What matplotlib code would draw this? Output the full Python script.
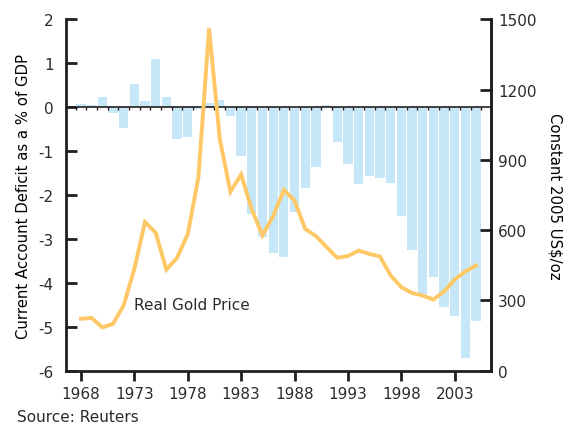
import numpy as np
import matplotlib
matplotlib.use("Agg")
import matplotlib.pyplot as plt

years = np.arange(1968, 2006)

# current account balance, % of GDP
deficit = [0.07, 0.05, 0.23, -0.14, -0.48, 0.52, 0.14, 1.11, 0.24, -0.73,
           -0.68, -0.03, 0.10, 0.17, -0.19, -1.11, -2.42, -2.95, -3.31, -3.41,
           -2.39, -1.83, -1.37, 0.05, -0.80, -1.29, -1.74, -1.56, -1.62, -1.72,
           -2.47, -3.26, -4.26, -3.86, -4.56, -4.75, -5.71, -4.86]

# real gold price, constant 2005 US$/oz
gold = [222, 225, 185, 200, 279, 435, 635, 589, 432, 482,
        583, 825, 1462, 990, 764, 838, 688, 578, 660, 772,
        727, 606, 575, 528, 482, 490, 513, 499, 488, 407,
        357, 332, 321, 304, 338, 390, 424, 449]

xtick_years = list(range(1968, 2004, 5))
left_ticks = list(range(-6, 3))
right_ticks = list(range(0, 1501, 300))

ink = "#231f20"
plt.rcParams["font.family"] = "DejaVu Sans"
plt.rcParams["font.size"] = 11
plt.rcParams["axes.unicode_minus"] = False
plt.rcParams["text.color"] = "#2b2b2b"
plt.rcParams["xtick.color"] = ink
plt.rcParams["ytick.color"] = ink
plt.rcParams["xtick.labelcolor"] = "#2b2b2b"
plt.rcParams["ytick.labelcolor"] = "#2b2b2b"

fig = plt.figure(figsize=(5.64, 4.27), dpi=100)
ax = fig.add_axes([0.117, 0.1295, 0.7536, 0.8225])

ax.bar(years, deficit, width=0.87, color="#c6e7f8", zorder=2)
ax.set_xlim(years[0] - 1.4, years[-1] + 1.4)
ax.set_ylim(-6, 2)
ax.set_yticks(left_ticks)
ax.set_xticks(xtick_years)
ax.set_xticklabels([str(y) for y in xtick_years])
ax.set_ylabel("Current Account Deficit as a % of GDP", fontsize=10.7, labelpad=5)
ax.tick_params(axis="y", direction="in", length=8, width=2, pad=9)
ax.tick_params(axis="x", direction="out", length=7, width=2, pad=4)
for s in ["left", "bottom", "right"]:
    ax.spines[s].set_linewidth(2)
    ax.spines[s].set_color(ink)
ax.spines["top"].set_visible(False)

# zero line with little category ticks
zax = ax.twiny()
zax.set_xlim(ax.get_xlim())
zax.spines["bottom"].set_position(("data", 0))
zax.spines["bottom"].set_linewidth(1.2)
zax.spines["bottom"].set_color(ink)
for s in ["top", "left", "right"]:
    zax.spines[s].set_visible(False)
zax.xaxis.set_ticks_position("bottom")
zax.set_xticks(np.append(years - 0.5, years[-1] + 0.5))
zax.set_xticklabels([])
zax.tick_params(axis="x", direction="out", length=2, width=1, color=ink)

ax2 = ax.twinx()
ax2.plot(years, gold, color="#fec866", lw=2.8, solid_joinstyle="miter", zorder=3)
ax2.set_ylim(0, 1500)
ax2.set_yticks(right_ticks)
ax2.set_ylabel("Constant 2005 US$/oz", fontsize=10.7, rotation=270, labelpad=19)
ax2.tick_params(axis="y", direction="in", length=8, width=2, pad=5)
ax2.spines["top"].set_visible(False)
ax2.spines["right"].set_linewidth(2)
ax2.spines["right"].set_color(ink)
ax2.spines["left"].set_visible(False)
ax2.spines["bottom"].set_visible(False)

ax.text(1973, -4.5, "Real Gold Price", va="center", ha="left")
fig.text(0.03, 0.005, "Source: Reuters", ha="left", va="bottom")

fig.savefig("out.png", dpi=100)
